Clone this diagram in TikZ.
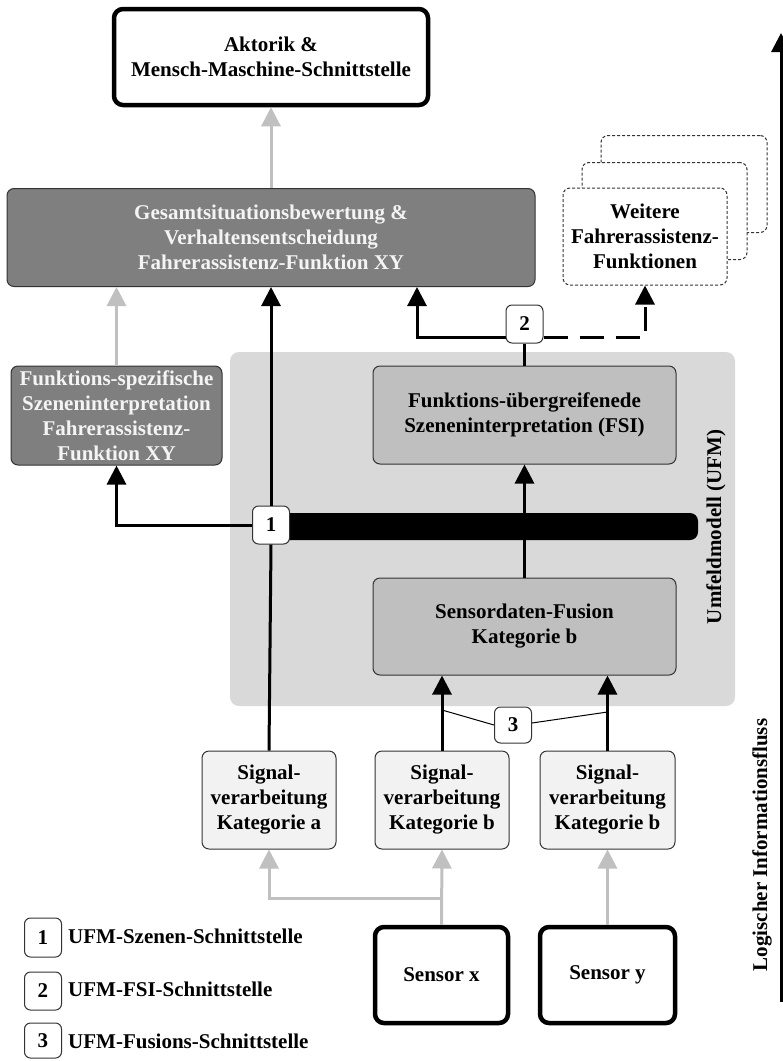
\documentclass[tikz,border=0pt]{standalone}
\usepackage{fontspec}
\setmainfont{Liberation Serif}
\usetikzlibrary{arrows.meta,calc}
\definecolor{dkgray}{HTML}{7F7F7F}
\definecolor{midgray}{HTML}{BFBFBF}
\definecolor{ufmgray}{HTML}{D9D9D9}
\definecolor{sigfill}{HTML}{F2F2F2}
\definecolor{arrgray}{HTML}{C0C0C0}
\definecolor{boxline}{HTML}{333333}
\definecolor{txtwhite}{HTML}{F4F4F4}
\begin{document}
\begin{tikzpicture}[x=1pt,y=-1pt,
  txt/.style={font=\fontsize{21}{25}\selectfont\bfseries},
  box/.style={txt, draw=boxline, line width=1pt, rounded corners=7pt, align=center, inner sep=0pt},
  thickbox/.style={box, draw=black, line width=4.5pt, rounded corners=9pt, fill=white},
  darkbox/.style={box, fill=dkgray, text=txtwhite},
  midbox/.style={box, fill=midgray},
  sigbox/.style={box, fill=sigfill, minimum width=134pt, minimum height=98pt},
  dashbox/.style={box, dash pattern=on 3pt off 2pt, fill=white, minimum height=97pt},
  tagbox/.style={box, fill=white, minimum width=37pt, minimum height=38pt, rounded corners=6pt},
  blk/.style={draw=black, line width=3pt, -{Triangle[width=19pt,length=19pt]}},
  gry/.style={draw=arrgray, line width=3pt, -{Triangle[width=19pt,length=19pt]}},
  dashline/.style={draw=black, line width=3pt, dash pattern=on 24pt off 12pt, -{Triangle[width=19pt,length=19pt]}},
  thinline/.style={draw=black, line width=1pt}
]
\useasboundingbox (0,0) rectangle (783,1061);
\fill[white] (0,0) rectangle (783,1061);

% UFM region and bar
\fill[ufmgray, rounded corners=9pt] (230,352) rectangle (735,706);
\fill[black, rounded corners=8pt] (271,513) rectangle (698,540);

% nodes
\node[thickbox, minimum width=314pt, minimum height=96pt] (akt) at (271,57) {Aktorik \&\\Mensch-Maschine-Schnittstelle};
\node[darkbox, minimum width=528pt, minimum height=98pt] (ges) at (271,237.5) {Gesamtsituationsbewertung \&\\Verhaltensentscheidung\\Fahrerassistenz-Funktion XY};
\node[darkbox, minimum width=211pt, minimum height=99pt] (fsp) at (116.5,415.5) {Funktions-spezifische\\Szeneninterpretation\\Fahrerassistenz-\\Funktion XY};

\node[dashbox, minimum width=166pt] (weit3) at (684,184) {};
\node[dashbox, minimum width=165pt] (weit2) at (664.5,211) {};
\node[dashbox, minimum width=164pt] (weit1) at (645,236.5) {Weitere\\Fahrerassistenz-\\Funktionen};

\node[midbox, minimum width=303pt, minimum height=98pt] (fsi) at (524.5,415) {Funktions-übergreifenede\\Szeneninterpretation (FSI)};
\node[midbox, minimum width=303pt, minimum height=97pt] (fus) at (524.5,626.5) {Sensordaten-Fusion\\Kategorie b};

\node[tagbox] (i1) at (271,525) {1};
\node[tagbox] (i2) at (524.5,324) {2};
\node[tagbox, minimum height=36pt] (i3) at (513,725) {3};

\node[sigbox] (siga) at (269,800) {Signal-\\verarbeitung\\Kategorie a};
\node[sigbox] (sigb1) at (442,800) {Signal-\\verarbeitung\\Kategorie b};
\node[sigbox, minimum width=135pt] (sigb2) at (607.5,800) {Signal-\\verarbeitung\\Kategorie b};

\node[thickbox, minimum width=133pt, minimum height=96pt] (sx) at (441.5,975) {Sensor x};
\node[thickbox, minimum width=135pt, minimum height=96pt] (sy) at (607.5,975) {Sensor y};

\node[txt, rotate=90] (ufmlab) at (716,527) {Umfeldmodell (UFM)};
\node[txt, rotate=90] (flowlab) at (762,845) {Logischer Informationsfluss};

% legend
\node[tagbox, minimum height=39pt] (l1) at (43,937.5) {1};
\node[tagbox, minimum height=38pt] (l2) at (43,991) {2};
\node[tagbox, minimum height=35pt] (l3) at (43,1040.5) {3};
\node[txt, anchor=base west, inner sep=0pt] (t1) at (68,943) {UFM-Szenen-Schnittstelle};
\node[txt, anchor=base west, inner sep=0pt] (t2) at (68,996) {UFM-FSI-Schnittstelle};
\node[txt, anchor=base west, inner sep=0pt] (t3) at (68,1048) {UFM-Fusions-Schnittstelle};

% connectors
\draw[gry] (ges.north) -- (akt.south);
\draw[gry] (fsp.north) -- (fsp.north |- ges.south);
\draw[line width=3pt] (siga.north) -- (i1.south);
\draw[blk] (i1.north) -- (i1.north |- ges.south);
\draw[blk] (i1.west) -| (fsp.south);
\draw[line width=3pt] (fsi.north) -- (i2.south);
\draw[blk] ([yshift=-13pt]i2.west) -| ([xshift=146pt]ges.south);
\draw[dashline] ([yshift=-13pt]i2.east) -| (weit1.south);
\draw[blk] (fus.north) -- (fsi.south);
\draw[blk] (sigb1.north) -- (sigb1.north |- fus.south);
\draw[blk] (sigb2.north) -- (sigb2.north |- fus.south);
\draw[thinline] (i3.west) -- (sigb1.north |- 0,710);
\draw[thinline] ([yshift=2pt]i3.east) -- (sigb2.north |- 0,712);
\draw[gry] (sx.north) -- (sigb1.south);
\draw[gry] (sx.north |- 0,898) -| (siga.south);
\draw[gry] (sy.north) -- (sigb2.south);

% information flow arrow
\coordinate (flowbot) at (781,1002);
\coordinate (flowtop) at (781,33);
\draw[blk] (flowbot) -- (flowtop);
\end{tikzpicture}
\end{document}
